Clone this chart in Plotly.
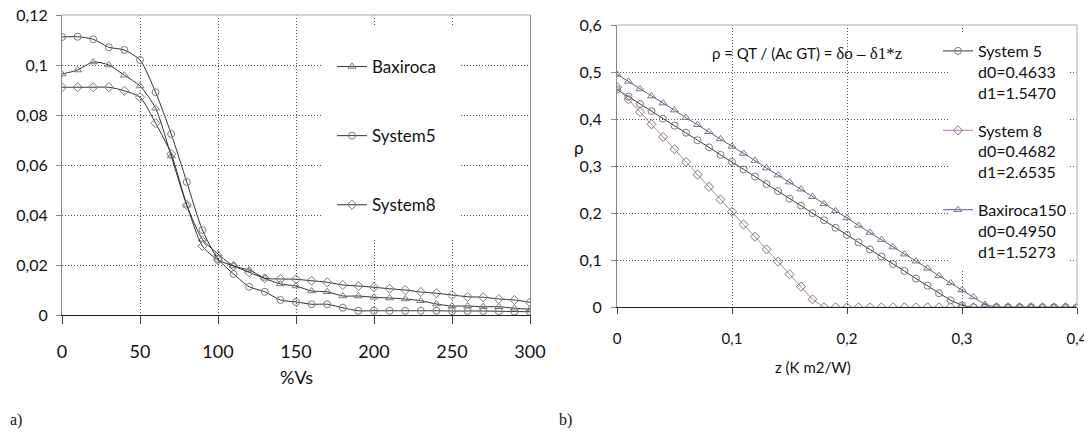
import plotly.graph_objects as go

W, H = 1092, 441
OFF = 8  # page body margin offset
def px(x): return (x - OFF) / W
def py(y): return 1 - (y - OFF) / H

# ---------- panel a) data ----------
pct_vs = [0, 10, 20, 30, 40, 50, 60, 70, 80, 90, 100, 110, 120, 130, 140, 150,
          160, 170, 180, 190, 200, 210, 220, 230, 240, 250, 260, 270, 280, 290, 300]
baxiroca = [0.0964, 0.0980, 0.1012, 0.1000, 0.0959, 0.0916, 0.0827, 0.0636, 0.0439, 0.0303,
            0.0244, 0.0196, 0.0180, 0.0147, 0.0124, 0.0116, 0.0096, 0.0093, 0.0076, 0.0076,
            0.0071, 0.0068, 0.0064, 0.0057, 0.0044, 0.0036, 0.0036, 0.0033, 0.0033, 0.0027, 0.0023]
system5 = [0.1112, 0.1113, 0.1103, 0.1071, 0.1060, 0.1020, 0.0891, 0.0724, 0.0532, 0.0340,
           0.0224, 0.0164, 0.0113, 0.0093, 0.0060, 0.0052, 0.0043, 0.0043, 0.0029, 0.0017,
           0.0017, 0.0017, 0.0017, 0.0017, 0.0017, 0.0016, 0.0016, 0.0016, 0.0015, 0.0014, 0.0013]
system8 = [0.0911, 0.0911, 0.0911, 0.0911, 0.0897, 0.0871, 0.0767, 0.0644, 0.0440, 0.0276,
           0.0220, 0.0196, 0.0171, 0.0147, 0.0144, 0.0143, 0.0137, 0.0131, 0.0120, 0.0116,
           0.0111, 0.0105, 0.0100, 0.0092, 0.0087, 0.0080, 0.0073, 0.0071, 0.0064, 0.0060, 0.0051]

# ---------- panel b) data ----------
z_vals = [0.00, 0.01, 0.02, 0.03, 0.04, 0.05, 0.06, 0.07, 0.08, 0.09, 0.10,
          0.11, 0.12, 0.13, 0.14, 0.15, 0.16, 0.17, 0.18, 0.19, 0.20,
          0.21, 0.22, 0.23, 0.24, 0.25, 0.26, 0.27, 0.28, 0.29, 0.30,
          0.31, 0.32, 0.33, 0.34, 0.35, 0.36, 0.37, 0.38, 0.39, 0.40]
rho_sys5 = [0.463, 0.448, 0.432, 0.417, 0.401, 0.386, 0.371, 0.355, 0.340, 0.324, 0.309,
            0.293, 0.278, 0.262, 0.247, 0.231, 0.216, 0.200, 0.185, 0.169, 0.154,
            0.138, 0.123, 0.108, 0.092, 0.077, 0.061, 0.046, 0.030, 0.015, 0.004,
            0.0, 0.0, 0.0, 0.0, 0.0, 0.0, 0.0, 0.0, 0.0, 0.0]
rho_sys8 = [0.468, 0.442, 0.415, 0.389, 0.362, 0.336, 0.309, 0.282, 0.256, 0.229, 0.203,
            0.176, 0.150, 0.123, 0.097, 0.070, 0.044, 0.017, 0.0, 0.0, 0.0,
            0.0, 0.0, 0.0, 0.0, 0.0, 0.0, 0.0, 0.0, 0.0, 0.0,
            0.0, 0.0, 0.0, 0.0, 0.0, 0.0, 0.0, 0.0, 0.0, 0.0]
rho_bax = [0.495, 0.480, 0.464, 0.449, 0.434, 0.419, 0.403, 0.388, 0.373, 0.358, 0.342,
           0.327, 0.312, 0.296, 0.281, 0.266, 0.251, 0.235, 0.220, 0.205, 0.190,
           0.174, 0.159, 0.144, 0.128, 0.113, 0.098, 0.083, 0.067, 0.052, 0.037,
           0.022, 0.006, 0.0, 0.0, 0.0, 0.0, 0.0, 0.0, 0.0, 0.0]

FONT = "Lato, Carlito, Calibri, sans-serif"
SERIF = "Liberation Serif, Times New Roman, serif"
TXT = "#111111"
MK = "#7a7a7a"

fig = go.Figure()

# panel a traces
for name, ys, sym, grp in [("Baxiroca", baxiroca, "triangle-up-open", "g1"),
                           ("System5", system5, "circle-open", "g2"),
                           ("System8", system8, "diamond-open", "g3")]:
    fig.add_trace(go.Scatter(
        x=pct_vs, y=ys, name=name, mode="lines+markers", legend="legend", legendgroup=grp,
        line=dict(color="#333333", width=1, shape="spline", smoothing=0.7),
        marker=dict(symbol=sym, size=7, color=MK, line=dict(width=1, color=MK)),
        xaxis="x", yaxis="y"))

# panel b traces
for name, ys, sym, col, grp in [
        ("System 5<br>d0=0.4633<br>d1=1.5470", rho_sys5, "circle-open", "#3a3a3a", "h1"),
        ("System 8<br>d0=0.4682<br>d1=2.6535", rho_sys8, "diamond-open", "#b47ab4", "h2"),
        ("Baxiroca150<br>d0=0.4950<br>d1=1.5273", rho_bax, "triangle-up-open", "#5c5ca0", "h3")]:
    fig.add_trace(go.Scatter(
        x=z_vals, y=ys, name=name, mode="lines+markers", legend="legend2", legendgroup=grp,
        line=dict(color=col, width=1),
        marker=dict(symbol=sym, size=7, color=MK, line=dict(width=1, color=MK)),
        xaxis="x2", yaxis="y2"))

grid = dict(showgrid=True, gridcolor="#555555", gridwidth=1, griddash="1px,2px",
            zeroline=False, automargin=False, ticklabeloverflow="allow")

fig.update_layout(
    width=W, height=H, margin=dict(l=0, r=0, t=0, b=0, autoexpand=False),
    paper_bgcolor="white", plot_bgcolor="white",
    separators=",.",
    font=dict(family=FONT, color=TXT, size=16),
    xaxis=dict(domain=[px(62), px(530)], range=[0, 300], dtick=50, anchor="y",
               showline=True, linecolor="#222222", linewidth=1,
               ticks="outside", ticklen=8, tickcolor="#444444",
               tickfont=dict(size=18, family=FONT, color=TXT), ticklabelstandoff=12, **grid),
    yaxis=dict(domain=[py(315), py(15)], range=[0, 0.12], dtick=0.02, anchor="x",
               showline=True, linecolor="#888888", linewidth=1, mirror=True,
               ticks="outside", ticklen=5, tickcolor="#888888",
               tickfont=dict(size=16, family=FONT, color=TXT), ticklabelstandoff=5, **grid),
    xaxis2=dict(domain=[px(617), px(1077)], range=[0, 0.4], dtick=0.1, anchor="y2",
                showline=True, linecolor="#222222", linewidth=1,
                ticks="outside", ticklen=6, tickcolor="#444444",
                tickfont=dict(size=15, family=FONT, color=TXT), ticklabelstandoff=12, **grid),
    yaxis2=dict(domain=[py(307.3), py(25)], range=[0, 0.6], dtick=0.1, anchor="x2",
                showline=True, linecolor="#888888", linewidth=1,
                ticks="outside", ticklen=5, tickcolor="#888888",
                tickfont=dict(size=16, family=FONT, color=TXT), ticklabelstandoff=6, **grid),
    legend=dict(x=px(332), y=py(49), xanchor="left", yanchor="top",
                bgcolor="rgba(0,0,0,0)", font=dict(size=17, family=FONT, color=TXT),
                tracegroupgap=44, traceorder="grouped"),
    legend2=dict(x=px(938), y=py(34), xanchor="left", yanchor="top", valign="top",
                 bgcolor="rgba(0,0,0,0)", font=dict(size=16, family=FONT, color=TXT),
                 tracegroupgap=14, traceorder="grouped"),
    showlegend=True,
)

shapes = [
    # white legend areas hiding grid
    dict(type="rect", xref="paper", yref="paper", x0=px(323), x1=px(460), y0=py(240), y1=py(25),
         fillcolor="white", line=dict(width=0), layer="above"),
    dict(type="rect", xref="paper", yref="paper", x0=px(948), x1=px(1070), y0=py(270), y1=py(32),
         fillcolor="white", line=dict(width=0), layer="above"),
    # top / right border lines
    dict(type="line", xref="x domain", yref="y domain", x0=0, x1=1, y0=1, y1=1,
         line=dict(color="#c4c4c4", width=1.5)),
    dict(type="line", xref="x2 domain", yref="y2 domain", x0=0, x1=1, y0=1, y1=1,
         line=dict(color="#c8c8c8", width=1.5)),
    dict(type="line", xref="x2 domain", yref="y2 domain", x0=1, x1=1, y0=0, y1=1,
         line=dict(color="#c8c8c8", width=1.5)),
]
fig.update_layout(shapes=shapes)

def ann(text, x, y, size, family=FONT, xanchor="center"):
    return dict(text=text, x=px(x), y=py(y), xref="paper", yref="paper", showarrow=False,
                xanchor=xanchor, yanchor="middle", font=dict(size=size, family=family, color=TXT))

annotations = [
    ann("%Vs", 296, 377, 18),
    ann("z (K m2/W)", 813, 367, 15),
    ann("ρ", 579, 147, 17),
    ann('ρ = QT / (Ac GT) = <span style="font-family:Liberation Serif, Times New Roman, serif; font-size:17px">δo – δ1*z</span>',
        710, 53, 15, xanchor="left"),
    ann("a)", 8, 420, 16, family=SERIF, xanchor="left"),
    ann("b)", 557, 420, 16, family=SERIF, xanchor="left"),
]
fig.update_layout(annotations=annotations)

fig.write_html("out.html")
